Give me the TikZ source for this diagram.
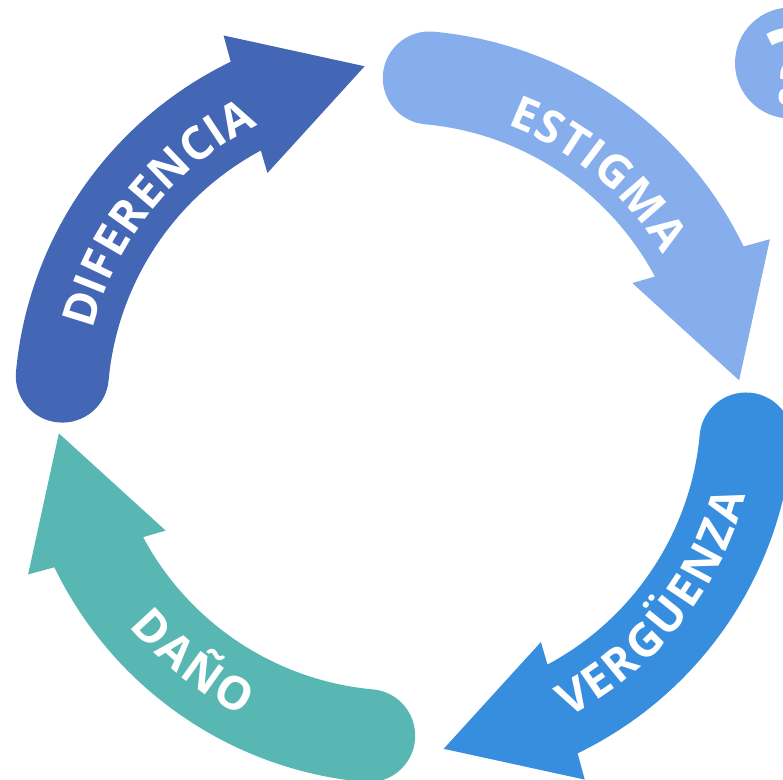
\documentclass[tikz,border=0pt]{standalone}
\usepackage{fontspec}
\newfontfamily\arrowfont{Open Sans}
\newcommand\arrowlabel{\arrowfont\bfseries\fontsize{13}{15.5}\selectfont}
\definecolor{difblue}{RGB}{67,102,181}
\definecolor{estblue}{RGB}{134,174,236}
\definecolor{verblue}{RGB}{55,142,222}
\definecolor{danteal}{RGB}{88,183,178}
\usetikzlibrary{decorations.text}
\tikzset{
    % one quarter of the cycle: round tail, thick arc, triangular head
    cyclearrow/.pic = {
    \fill (174.8:383) arc[start angle=174.8, end angle=354.8, radius=46.5]
        arc[start angle=174.8, end angle=118.15, radius=290.5]
        -- (119.1:267.3) -- (95.5:341.9) -- (115.1:409.8) -- (115.8:383)
        arc[start angle=115.8, end angle=174.8, radius=383] -- cycle;
    },
    % white word spread along an arc
    arcword/.style={decorate, decoration={text along path, text align={fit to path},
        text color=white, text={|\arrowlabel|#1}}}
}

\begin{document}
\begin{tikzpicture}[line cap=round,line join=round,x=0.01cm,y=0.01cm]
    \useasboundingbox (-402,-373) rectangle (381,407);
    \clip (-402,-373) rectangle (381,407);

    % the four arrows
    \path (-4.6,0.4) pic[difblue] {cyclearrow};
    \path (-3.2,-6.1) pic[estblue, rotate=-90] {cyclearrow};
    \path (8.9,-1.5) pic[verblue, rotate=180] {cyclearrow};
    \path (-2.8,6.4) pic[danteal, rotate=90] {cyclearrow};

    % their words
    \path[shift={(-4.6,0.4)}, arcword=DIFERENCIA] (165.9:314) arc[start angle=165.9, end angle=116.3, radius=314];
    \path[shift={(-3.2,-6.1)}, arcword=ESTIGMA] (69.4:308) arc[start angle=69.4, end angle=31, radius=308];
    \path[shift={(8.9,-1.5)}, arcword=VERGÜENZA] (-63:346) arc[start angle=-63, end angle=-14.6, radius=346];
    \path[shift={(-2.8,6.4)}, arcword=DAÑO] (219.9:352) arc[start angle=219.9, end angle=243.5, radius=352];

    % question badge
    \fill[estblue] (388.5,344) circle (55.5);
    \node[text=white, font=\arrowfont\bfseries\fontsize{30}{30}\selectfont] (qmark) at (390,340) {?};
\end{tikzpicture}
\end{document}
